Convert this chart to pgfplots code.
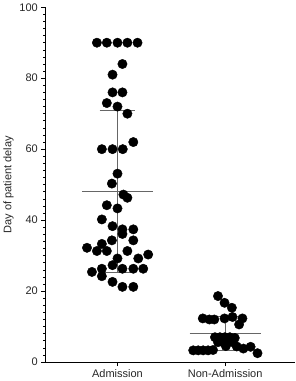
\documentclass[border=0pt]{standalone}
\usepackage{pgfplots}
\pgfplotsset{compat=1.18}
\usepackage{fontspec}
\setmainfont{Liberation Sans}
\begin{document}
\begin{tikzpicture}
\begin{axis}[
 scale only axis, width=250pt, height=355pt,
 xmin=0.33, xmax=2.65, ymin=0, ymax=100,
 axis x line*=bottom, axis y line*=left,
 axis line style={black, line width=0.7pt},
 xtick={1,2}, xticklabels={Admission,Non-Admission},
 ytick={0,20,...,100}, minor y tick num=9,
 tick align=outside,
 major tick length=4pt, minor tick length=2pt,
 tick style={black, line width=0.6pt},
 ylabel={Day of patient delay},
 ticklabel style={font=\fontsize{11}{12}\selectfont, text=black!85},
 label style={font=\fontsize{11}{12}\selectfont, text=black!85},
 ylabel style={yshift=-1pt},
 /pgf/number format/assume math mode=true,
 clip=false,
]
% mean and SD lines
\addplot[black!60, line width=0.8pt] coordinates {(0.67,48) (1.33,48)};
\addplot[black!60, line width=0.8pt] coordinates {(0.835,70.9) (1.165,70.9)};
\addplot[black!60, line width=0.8pt] coordinates {(0.835,25.2) (1.165,25.2)};
\addplot[black!60, line width=0.8pt] coordinates {(1,25.2) (1,70.9)};
\addplot[black!60, line width=0.8pt] coordinates {(1.67,8.0) (2.33,8.0)};
\addplot[black!60, line width=0.8pt] coordinates {(1.835,12.9) (2.165,12.9)};
\addplot[black!60, line width=0.8pt] coordinates {(1.835,3.3) (2.165,3.3)};
\addplot[black!60, line width=0.8pt] coordinates {(2,3.3) (2,12.9)};
% Admission
\addplot[only marks, mark=*, mark size=4.7pt, black] coordinates {
(0.809,90) (0.901,90) (1.0,90) (1.092,90) (1.186,90)
(1.046,84) (0.954,81) (0.954,76) (1.046,76) (0.901,73) (1.0,72) (1.092,70)
(1.147,62) (0.855,60) (0.954,60) (1.049,60) (1.0,53.1) (0.948,50.3)
(1.055,47.2) (1.092,46.3) (0.901,44.2) (1.0,43.3)
(0.855,40.2) (0.954,38.3) (1.046,37.4) (1.147,37.4) (1.046,36.1)
(0.948,34.3) (1.147,34.3) (0.855,33.3) (0.717,32.2)
(0.809,31.3) (0.901,31.3) (1.092,31.3) (1.285,30.3)
(1.0,29.2) (1.193,29.2) (0.954,27.3)
(0.855,26.3) (1.046,26.3) (1.147,26.3) (1.239,26.3)
(0.763,25.4) (0.855,24.2) (0.954,22.6) (1.046,21.2) (1.147,21.2)
};
% Non-Admission
\addplot[only marks, mark=*, mark size=4.7pt, black] coordinates {
(1.933,18.6) (1.994,16.7) (2.062,15.3)
(1.792,12.3) (1.853,12.0) (1.899,12.0) (1.994,12.3) (2.068,12.7) (2.160,12.3)
(2.129,10.6)
(1.905,7.0) (1.951,7.0) (1.997,7.0) (2.043,7.0) (2.089,6.8)
(1.933,5.6) (1.979,5.6) (2.025,5.6) (2.071,5.6)
(2.006,4.5) (2.107,4.4)
(1.703,3.3) (1.749,3.3) (1.795,3.3) (1.841,3.3) (1.887,3.4)
(2.169,3.8) (2.236,4.3) (2.300,2.5)
};
\end{axis}
\end{tikzpicture}
\end{document}
